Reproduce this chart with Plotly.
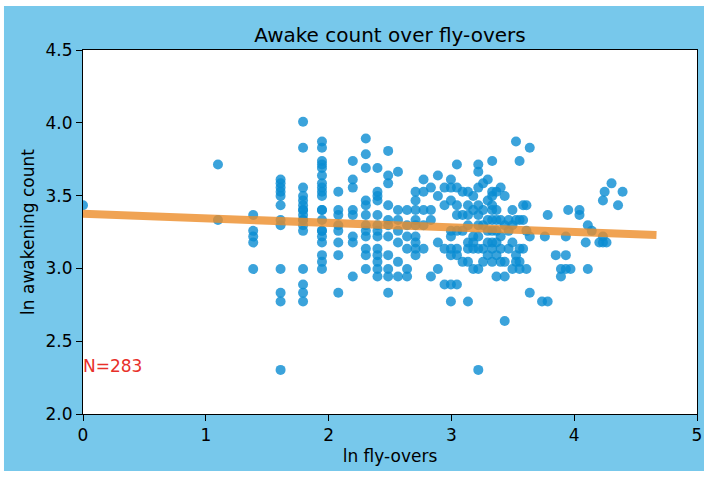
import plotly.graph_objects as go

# ln(fly-overs) column positions and ln(awakening count) values per column
fly_ln_cols = [0.000, 1.099, 1.386, 1.609, 1.792, 1.946, 2.079, 2.197, 2.303, 2.398,
               2.485, 2.565, 2.639, 2.708, 2.773, 2.833, 2.890, 2.944, 2.996, 3.045,
               3.091, 3.135, 3.178, 3.219, 3.258, 3.296, 3.332, 3.367, 3.401, 3.434,
               3.466, 3.497, 3.526, 3.555, 3.584, 3.611, 3.638, 3.738, 3.761, 3.784,
               3.850, 3.892, 3.932, 3.951, 3.970, 4.043, 4.094, 4.111, 4.143, 4.205,
               4.234, 4.248, 4.263, 4.304, 4.357, 4.394]

awake_ln_by_col = [
    [3.434],
    [3.714, 3.332],
    [3.367, 3.258, 3.219, 3.178, 2.996],
    [3.611, 3.584, 3.555, 3.526, 3.497, 3.434, 3.332, 3.296, 2.996, 2.833, 2.773, 2.303],
    [4.007, 3.829, 3.555, 3.497, 3.466, 3.434, 3.401, 3.367, 3.332, 3.296, 3.258, 2.996,
     2.890, 2.833, 2.773, 3.401, 3.332],
    [3.871, 3.829, 3.738, 3.714, 3.689, 3.638, 3.584, 3.555, 3.526, 3.497, 3.401, 3.332,
     3.258, 3.219, 3.178, 3.091, 3.045, 2.996, 3.401, 3.258],
    [3.526, 3.401, 3.367, 3.296, 3.258, 3.178, 3.091, 2.833],
    [3.738, 3.611, 3.555, 3.401, 3.367, 3.219, 3.178, 2.944],
    [3.892, 3.784, 3.689, 3.466, 3.434, 3.367, 3.219, 3.135, 3.091, 2.996, 3.296, 3.258],
    [3.689, 3.526, 3.497, 3.466, 3.367, 3.296, 3.135, 3.091, 3.045, 2.996, 2.944, 3.219, 3.258],
    [3.807, 3.638, 3.584, 3.434, 3.219, 3.091, 2.996, 2.944, 2.833, 3.296, 3.332],
    [3.664, 3.401, 3.332, 3.258, 3.045, 2.944, 3.178],
    [3.401, 3.296, 2.996, 2.944, 3.135, 3.219],
    [3.526, 3.466, 3.401, 3.296, 3.219, 3.178, 3.135, 3.091, 3.332],
    [3.611, 3.526, 3.401, 3.135, 3.296],
    [3.555, 3.401, 3.332, 2.944],
    [3.638, 3.497, 3.178, 2.996],
    [3.555, 3.434, 3.135, 2.890],
    [3.611, 3.555, 3.466, 3.258, 3.219, 3.135, 3.091, 2.890, 2.773],
    [3.714, 3.555, 3.434, 3.367, 3.258, 3.135, 3.091, 2.890],
    [3.526, 3.367, 3.258, 3.045],
    [3.526, 3.434, 3.367, 3.296, 3.178, 3.135, 3.045, 2.773],
    [3.497, 3.401, 3.219, 3.178, 3.135, 2.996],
    [3.714, 3.664, 3.555, 3.434, 3.367, 3.296, 3.219, 3.135, 2.996, 2.303],
    [3.584, 3.401, 3.296, 3.135, 3.045],
    [3.611, 3.466, 3.332, 3.258, 3.178, 3.091],
    [3.738, 3.526, 3.497, 3.434, 3.401, 3.332, 3.258, 3.178, 3.135, 3.045],
    [3.526, 3.401, 3.332, 3.258, 3.178, 3.091, 2.944],
    [3.555, 3.332, 3.219, 3.135, 3.045],
    [3.497, 3.296, 3.045, 2.944, 2.639],
    [3.332, 3.258, 3.135],
    [3.401, 3.296, 3.178, 2.996],
    [3.871, 3.332, 3.091, 3.045],
    [3.738, 3.332, 3.135, 3.045, 2.996],
    [3.434, 3.332, 3.135],
    [3.434, 3.258, 2.996],
    [3.829, 3.219, 2.833],
    [2.773],
    [3.219],
    [3.367, 2.773],
    [3.091],
    [2.996, 2.944],
    [3.219, 3.091, 2.996],
    [3.401],
    [2.996],
    [3.401, 3.367],
    [3.178],
    [3.296, 2.996],
    [3.258],
    [3.178],
    [3.466, 3.219, 3.178],
    [3.526],
    [3.178],
    [3.584],
    [3.434],
    [3.526],
]

# Regression line
fit_intercept = 3.375
fit_slope = -0.0312
fit_x_range = [0.0, 4.67]

x_ticks = [0, 1, 2, 3, 4, 5]
y_ticks = [2.0, 2.5, 3.0, 3.5, 4.0, 4.5]
n_label = "N=283"

fly_ln = []
awake_ln = []
for xc, ys in zip(fly_ln_cols, awake_ln_by_col):
    for yv in ys:
        fly_ln.append(xc)
        awake_ln.append(yv)

fit_y = [fit_intercept + fit_slope * xv for xv in fit_x_range]

FONT = "DejaVu Sans"
BLUE_BG = "#77C8EB"

fig = go.Figure()
fig.add_trace(go.Scatter(
    x=fly_ln, y=awake_ln, mode="markers",
    marker=dict(size=10, color="rgba(10,140,210,0.8)", line=dict(width=0)),
    showlegend=False, hoverinfo="skip"))
fig.add_trace(go.Scatter(
    x=fit_x_range, y=fit_y, mode="lines",
    line=dict(color="rgba(236,140,40,0.8)", width=8),
    showlegend=False, hoverinfo="skip"))

fig.add_annotation(x=0, y=2.33, xref="x", yref="y", text=n_label, showarrow=False,
                   xanchor="left", yanchor="middle", xshift=-2,
                   font=dict(family=FONT, size=17, color="#E8302A"))

fig.add_shape(type="rect", xref="paper", yref="paper",
              x0=-0.1287, x1=1.0114, y0=-0.1566, y1=1.1209,
              fillcolor=BLUE_BG, line=dict(width=0), layer="below")
fig.add_shape(type="rect", xref="paper", yref="paper",
              x0=0, x1=1, y0=0, y1=1,
              fillcolor="white", line=dict(width=0), layer="below")

axis_common = dict(
    showline=True, linecolor="black", linewidth=1, mirror=True,
    ticks="outside", ticklen=6, tickcolor="black", tickwidth=1,
    showgrid=False, zeroline=False,
    tickfont=dict(family=FONT, size=17, color="black"),
)

fig.update_layout(
    width=711, height=478,
    margin=dict(l=83, r=14, t=50, b=64, autoexpand=False),
    paper_bgcolor="white", plot_bgcolor="white",
    font=dict(family=FONT, color="black"),
    title=dict(text="Awake count over fly-overs", x=0.5, xref="paper",
               y=1 - 35 / 478, yanchor="middle", xanchor="center",
               font=dict(family=FONT, size=20, color="black")),
    xaxis=dict(range=[0, 5], tickvals=x_ticks, ticktext=[str(t) for t in x_ticks],
               title=dict(text="ln fly-overs", font=dict(family=FONT, size=17), standoff=5),
               automargin=False, **axis_common),
    yaxis=dict(range=[2.0, 4.5], tickvals=y_ticks, ticktext=[f"{t:.1f}" for t in y_ticks],
               title=dict(text="ln awakening count", font=dict(family=FONT, size=17), standoff=6),
               automargin=False, **axis_common),
)

fig.write_html("out.html",
               config={"displayModeBar": False, "staticPlot": True},
               post_script="document.body.style.margin='0px';document.body.style.overflow='hidden';")
print(len(fly_ln))
